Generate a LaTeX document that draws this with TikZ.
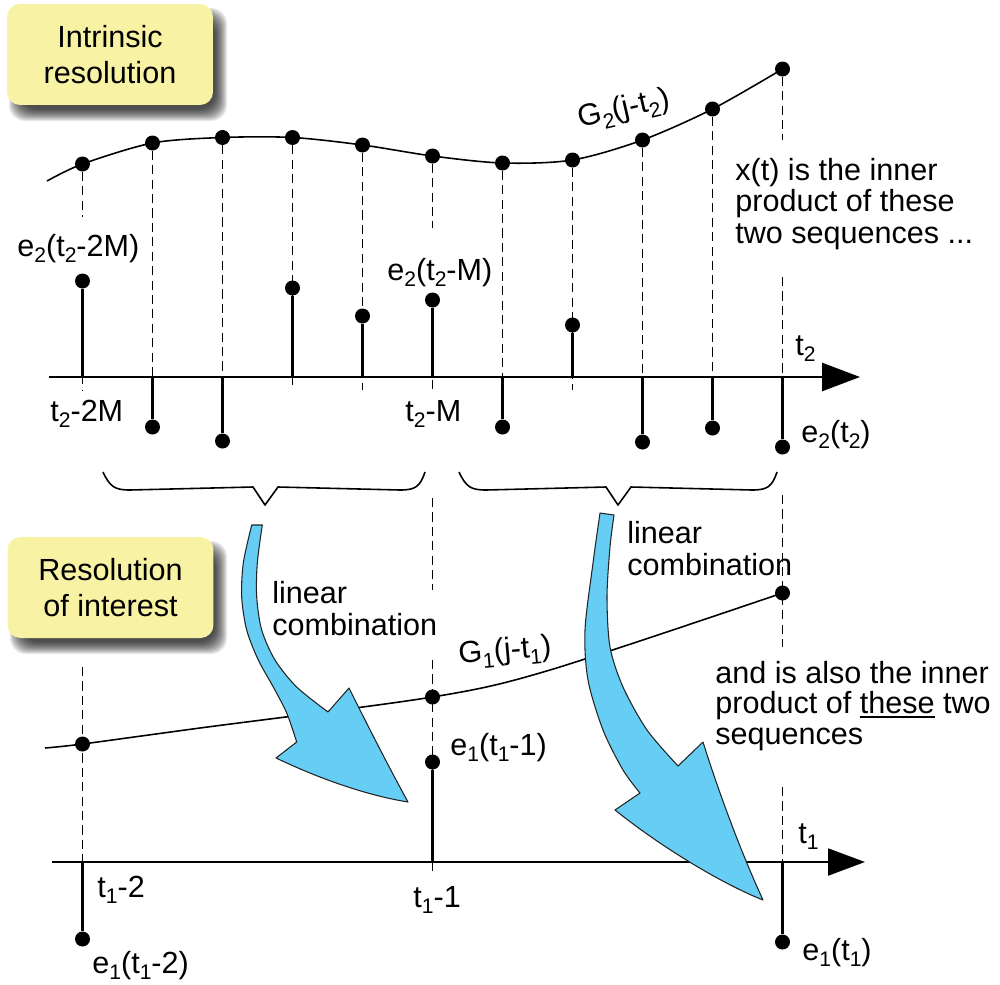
\documentclass[tikz,border=0pt]{standalone}
\usepackage{fontspec}
\setmainfont{Liberation Sans}
\usetikzlibrary{arrows.meta}
\definecolor{boxyellow}{RGB}{248,242,164}
\definecolor{arrowblue}{RGB}{102,206,245}
\definecolor{arrowedge}{RGB}{35,35,35}
\newcommand\lo[1]{\raisebox{-0.22em}{\fontsize{12}{12}\selectfont #1}}
\newcommand\fs{\fontsize{17.4}{17.9}\selectfont}
\newcommand\boxfs{\fontsize{17.4}{20.6}\selectfont}
\newcommand\ul[1]{\setbox0\hbox{#1}\rlap{\rule[-2.6pt]{\wd0}{1pt}}\box0\relax}
\begin{document}
\begin{tikzpicture}[x=0.02cm,y=-0.02cm,
  dot/.style={circle,fill=black,inner sep=0pt,minimum size=0.3cm},
  axisline/.style={line width=1.3pt},
  stemline/.style={line width=1.3pt},
  dashline/.style={line width=1.0pt,dash pattern=on 5.2pt off 3pt},
  curveline/.style={line width=0.9pt},
  braceline/.style={line width=0.9pt,line join=round},
  lbl/.style={font=\fs,inner sep=0pt,anchor=base west},
  ybox/.style={fill=boxyellow,rounded corners=7.4pt,font=\boxfs,align=center,inner sep=0pt,minimum width=4.12cm,minimum height=2.02cm},
  shadowlayer/.style={fill=black,opacity=0.085,rounded corners=9pt},
  bigarrow/.style={fill=arrowblue,draw=arrowedge,line width=0.6pt,line join=round}]
\useasboundingbox (0,0) rectangle (1000,984);

% ---- shadows and boxes
\foreach \e in {0,...,12}{
  \path[shadowlayer] ({21-\e},{20-\e}) rectangle ({215+\e},{109+\e});
  \path[shadowlayer] ({22-\e},{553-\e}) rectangle ({215+\e},{642+\e});
}
\node[ybox] (box1) at (110,54.5) {Intrinsic\\resolution};
\node[ybox] (box2) at (110.5,587.5) {Resolution\\of interest};

% ---- upper section: samples
\foreach \i/\cy/\ey in {0/164/281,1/143/427,2/137.5/441,3/137.5/288,4/145/316,5/156/300,6/163/427,7/160/325,8/140/442,9/109/428,10/69/447}{
  \pgfmathsetmacro\xx{82.5+70*\i}
  \node[dot] (c\i) at (\xx,\cy) {};
  \node[dot] (e\i) at (\xx,\ey) {};
  \coordinate (a\i) at (\xx,377);
  \coordinate (b\i) at (\xx,390);
}
\draw[curveline] plot[smooth] coordinates {(47,181) (c0.center) (c1.center) (c2.center) (c3.center) (c4.center) (c5.center) (c6.center) (c7.center) (c8.center) (c9.center) (c10.center)};

\foreach \i in {1,2,3,4,6,7,8,9} \draw[dashline] (c\i) -- (b\i);
\coordinate (br0) at (82.5,217);
\coordinate (br5) at (432.5,228);
\coordinate (br10a) at (782.5,140);
\coordinate (br10b) at (782.5,277);
\draw[dashline] (c0) -- (br0);
\draw[dashline] (e0) -- (b0);
\draw[dashline] (c5) -- (br5);
\draw[dashline] (e5) -- (b5);
\draw[dashline] (c10) -- (br10a);
\draw[dashline] (br10b) -- (b10);
\foreach \i in {0,...,10} \draw[stemline] (a\i) -- (e\i);

\coordinate (ta0) at (49,377);
\coordinate (ta1) at (860,377);
\draw[axisline,-{Triangle[length=21.5pt,width=15.9pt]}] (ta0) -- (ta1);

% ---- braces
\draw[braceline] (103,472) .. controls (110,487) and (115,490) .. (130,490) -- (253,487) -- (265,505) -- (278,487) -- (400,490) .. controls (415,490) and (420,487) .. (425,472);
\draw[braceline] (459,472) .. controls (466,487) and (471,490) .. (486,490) -- (606,487) -- (618,505) -- (631,487) -- (752,490) .. controls (767,490) and (772,487) .. (777,472);

% ---- lower section
\node[dot] (g0) at (82.5,744) {};
\node[dot] (g5) at (432.5,697) {};
\node[dot] (g10) at (782.5,593) {};
\node[dot] (f0) at (82.5,939) {};
\node[dot] (f5) at (432.5,762) {};
\node[dot] (f10) at (782.5,942) {};
\foreach \i/\xx in {0/82.5,5/432.5,10/782.5}{
  \coordinate (la\i) at (\xx,862);
  \coordinate (lb\i) at (\xx,875);
}
\draw[curveline] plot[smooth] coordinates {(45,748) (g0.center) (200,728) (g5.center) (550,670) (g10.center)};
\coordinate (d0a) at (82.5,667);
\coordinate (d5a) at (432.5,498);
\coordinate (d5b) at (432.5,590);
\coordinate (d5c) at (432.5,660);
\coordinate (d10a) at (782.5,495);
\coordinate (d10b) at (782.5,647);
\coordinate (d10c) at (782.5,787);
\draw[dashline] (d0a) -- (lb0);
\draw[dashline] (d5a) -- (d5b);
\draw[dashline] (d5c) -- (lb5);
\draw[dashline] (d10a) -- (d10b);
\draw[dashline] (d10c) -- (lb10);
\foreach \i in {0,5,10} \draw[stemline] (la\i) -- (f\i);

\coordinate (tb0) at (52,862);
\coordinate (tb1) at (865,862);
\draw[axisline,-{Triangle[length=21pt,width=15.3pt]}] (tb0) -- (tb1);

% ---- blue arrows
\draw[bigarrow] plot[smooth] coordinates {(251.7,525) (243.3,563) (241.7,597) (246.7,630) (258.3,660) (273.3,687) (286.7,713) (296.7,742)}
  -- (276,758) .. controls (318,778) and (365,795) .. (408,802)
  .. controls (385,760) and (365,720) .. (349,688) -- (328,712)
  -- plot[smooth] coordinates {(328,712) (296.7,687) (275,660) (261.7,630) (256.7,597) (257.3,563) (262.3,525)} -- cycle;
\draw[bigarrow] plot[smooth] coordinates {(600,513) (593,563) (585,630) (588,680) (603,730) (623,770) (640,793)}
  -- (615,810) .. controls (665,850) and (725,885) .. (763,900)
  .. controls (740,850) and (718,790) .. (703,742) -- (678,766)
  -- plot[smooth] coordinates {(678,766) (647,730) (623,687) (610,647) (607,597) (610,547) (614,515)} -- cycle;

% ---- labels
\node[lbl] (le2a) at (17,256) {e\lo{2}(t\lo{2}-2M)};
\node[lbl] (le2b) at (387,280) {e\lo{2}(t\lo{2}-M)};
\node[lbl] (lt2a) at (50,421) {t\lo{2}-2M};
\node[lbl] (lt2b) at (405,421) {t\lo{2}-M};
\node[lbl] (lt2) at (795,355) {t\lo{2}};
\node[lbl] (le2c) at (801,442) {e\lo{2}(t\lo{2})};
\node[lbl,rotate=13] (lg2) at (580,128) {G\lo{2}(j-t\lo{2})};
\node[lbl] (lx1) at (735,180) {x(t) is the inner};
\node[lbl] (lx2) at (735,211.5) {product of these};
\node[lbl] (lx3) at (735,243) {two sequences ...};
\node[lbl] (llc1a) at (272,603) {linear};
\node[lbl] (llc1b) at (272,635) {combination};
\node[lbl] (llc2a) at (627,543) {linear};
\node[lbl] (llc2b) at (627,575) {combination};
\node[lbl,rotate=5] (lg1) at (459,664) {G\lo{1}(j-t\lo{1})};
\node[lbl] (le1b) at (450,755) {e\lo{1}(t\lo{1}-1)};
\node[lbl] (la1) at (715,683) {and is also the inner};
\node[lbl] (la2) at (715,713.5) {product of \ul{these} two};
\node[lbl] (la3) at (715,744) {sequences};
\node[lbl] (lt1) at (798,843) {t\lo{1}};
\node[lbl] (lt1a) at (97,897) {t\lo{1}-2};
\node[lbl] (lt1b) at (413,907) {t\lo{1}-1};
\node[lbl] (le1a) at (92,973) {e\lo{1}(t\lo{1}-2)};
\node[lbl] (le1c) at (802,960) {e\lo{1}(t\lo{1})};
\end{tikzpicture}
\end{document}
